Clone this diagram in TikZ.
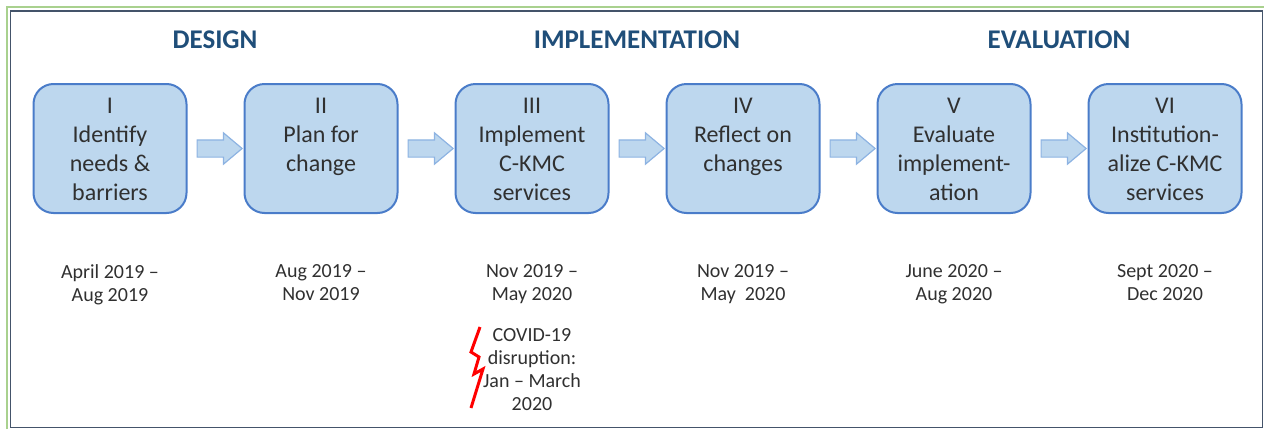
\documentclass[tikz,border=0pt]{standalone}
\usepackage{fontspec}
\setmainfont{Carlito}
\usetikzlibrary{shapes.arrows}

\definecolor{boxfill}{HTML}{BDD7EE}
\definecolor{boxline}{HTML}{4A7CC9}
\definecolor{arrowline}{HTML}{8DB3E2}
\definecolor{phase}{HTML}{1F4E79}
\definecolor{ink}{HTML}{303030}
\definecolor{framegreen}{HTML}{A9D18E}
\definecolor{framedark}{HTML}{44546A}

\tikzset{
  stage/.style={draw=boxline, line width=1pt, fill=boxfill, rounded corners=10pt,
    minimum width=76.5pt, minimum height=64.5pt, inner sep=0pt},
  stagetext/.style={anchor=north, inner sep=0pt, align=center, text=ink,
    font=\fontsize{12}{14.4}\selectfont},
  period/.style={anchor=north, inner sep=0pt, align=center, text=ink,
    font=\fontsize{10}{11.5}\selectfont},
  phasename/.style={anchor=base, inner sep=0pt, text=phase,
    font=\fontsize{13.5}{16}\selectfont\bfseries},
  next/.style={single arrow, draw=arrowline, line width=0.6pt, fill=boxfill,
    inner sep=4pt, single arrow head extend=3.5pt, single arrow tip angle=80,
    minimum height=22.5pt, anchor=tail}
}

\begin{document}
\begin{tikzpicture}[x=0.5pt,y=-0.5pt]
    \useasboundingbox (0,0) rectangle (1264,429);
    % frame
    \draw[framegreen, line width=1pt] (7,429) -- (7,7) -- (1264,7);
    \draw[framedark, line width=0.8pt] (10.5,11) rectangle (1262.5,427.5);

    % phases
    \node[phasename] (design) at (215,48) {DESIGN};
    \node[phasename] (impl) at (637,48) {IMPLEMENTATION};
    \node[phasename] (eval) at (1059,48) {EVALUATION};

    % stages
    \node[stage] (s1) at (110,148.5) {};
    \node[stage] (s2) at (321,148.5) {};
    \node[stage] (s3) at (532,148.5) {};
    \node[stage] (s4) at (743,148.5) {};
    \node[stage] (s5) at (954,148.5) {};
    \node[stage] (s6) at (1165,148.5) {};

    \node[stagetext] (t1) at (110,98) {I\\Identify\\needs \&\\barriers};
    \node[stagetext] (t2) at (321,98) {II\\Plan for\\change};
    \node[stagetext] (t3) at (532,98) {III\\Implement\\C-KMC\\services};
    \node[stagetext] (t4) at (743,98) {IV\\Reflect on\\changes};
    \node[stagetext] (t5) at (954,98) {V\\Evaluate\\implement-\\ation};
    \node[stagetext] (t6) at (1165,98) {VI\\Institution-\\alize C-KMC\\services};

    % arrows between stages
    \foreach \a/\b in {s1/s2, s2/s3, s3/s4, s4/s5, s5/s6}
        \node[next] (\a-\b) at ([xshift=4.5pt]\a.east) {};

    % time periods
    \node[period] (d1) at (110,264) {April 2019 --\\Aug 2019};
    \node[period] (d2) at (321,264) {Aug 2019 --\\Nov 2019};
    \node[period] (d3) at (532,264) {Nov 2019 --\\May 2020};
    \node[period] (d4) at (743,264) {Nov 2019 --\\May\ \ 2020};
    \node[period] (d5) at (954,264) {June 2020 --\\Aug 2020};
    \node[period] (d6) at (1165,264) {Sept 2020 --\\Dec 2020};

    % covid break
    \node[period] (covid) at (532,328) {COVID-19\\disruption:\\Jan -- March\\2020};
    \draw[red, line width=1.5pt, line join=miter]
        (480,327) -- (471,352) -- (479,357) -- (474,374) -- (483,369) -- (471,408);
\end{tikzpicture}
\end{document}
